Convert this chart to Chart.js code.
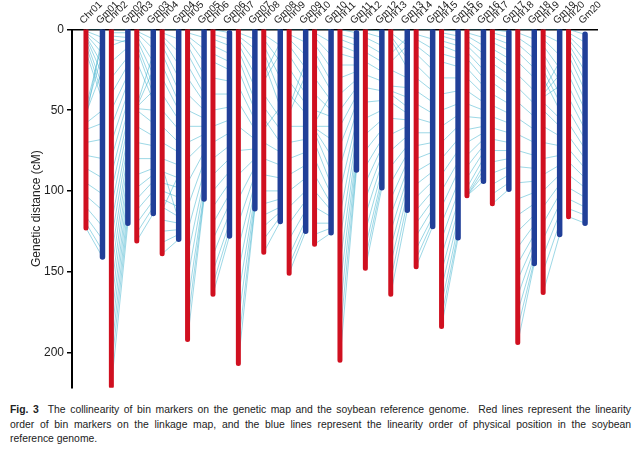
<!DOCTYPE html>
<html>
<head>
<meta charset="utf-8">
<script src="https://cdn.jsdelivr.net/npm/chart.js@4.4.1/dist/chart.umd.min.js"></script>
<style>
  body { margin: 0; background: #fff; width: 640px; height: 459px; overflow: hidden; font-family: "Liberation Sans", Arial, sans-serif; }
  #wrap { position: absolute; left: 0; top: 0; width: 640px; height: 398px; }
  #caption { position: absolute; left: 10px; top: 403px; width: 621px; font-size: 10.4px; line-height: 14.5px; color: #222; }
  #caption .j { text-align: justify; text-align-last: justify; }
</style>
</head>
<body>
<div id="wrap"><canvas id="chart"></canvas></div>
<div id="caption">
  <div class="j"><b>Fig. 3</b>&nbsp; The collinearity of bin markers on the genetic map and the soybean reference genome.&nbsp; Red lines represent the linearity</div>
  <div class="j">order of bin markers on the linkage map, and the blue lines represent the linearity order of physical position in the soybean</div>
  <div>reference genome.</div>
</div>
<script>
// nombres de los cromosomas (mapa genético y genoma de referencia)
const chrNames = ["Chr01","Chr02","Chr03","Chr04","Chr05","Chr06","Chr07","Chr08","Chr09","Chr10",
                  "Chr11","Chr12","Chr13","Chr14","Chr15","Chr16","Chr17","Chr18","Chr19","Chr20"];
const gmNames = ["Gm01","Gm02","Gm03","Gm04","Gm05","Gm06","Gm07","Gm08","Gm09","Gm10",
                 "Gm11","Gm12","Gm13","Gm14","Gm15","Gm16","Gm17","Gm18","Gm19","Gm20"];

// longitud de cada grupo de ligamiento (cM)
const chrLength = [123, 221, 131, 139, 192, 164, 207, 138, 151, 133, 205, 148, 164, 147, 184, 103, 108, 194, 163, 116];
// barras azules: inicio y fin en la misma escala
const gmStart = [0, 0, 0, 0, 0, 2, 0, 0, 0, 0, 2, 1, 0, 0, 1, 0, 1.5, 0, 0, 3];
const gmEnd = [141, 120, 114, 130, 105, 128, 111, 119, 125, 126, 87, 98, 112, 122, 129, 94, 99, 145, 127, 120];

const yTicks = [0, 50, 100, 150, 200];

// marcadores: [posición en rojo (cM), posición en azul]
const markerLinks = [
  [[0,0],[1,5],[2,10],[3,15],[4,22],[5,28],[7,35],[10,40],[14,44],[48,8],[50,15],[52,25],[55,3],[58,50],[62,58],[70,68],[78,80],[86,92],[95,102],[103,112],[110,122],[116,130],[120,137],[123,141]],
  [[0,0],[2,2],[4,5],[6,8],[10,6],[20,11],[30,17],[40,22],[50,28],[60,33],[70,39],[80,44],[90,50],[100,55],[110,60],[120,66],[130,71],[140,77],[150,82],[160,88],[170,93],[180,99],[190,104],[200,110],[210,115],[221,120]],
  [[0,0],[1,6],[2,12],[4,20],[6,28],[9,35],[12,40],[20,44],[47,15],[48,25],[48,38],[49,50],[50,58],[60,66],[70,72],[80,80],[90,86],[98,90],[105,94],[112,100],[120,106],[126,110],[131,114]],
  [[0,0],[2,6],[4,14],[6,22],[10,30],[15,38],[22,45],[30,50],[40,56],[50,62],[60,70],[70,76],[80,84],[85,118],[88,92],[95,98],[100,104],[105,110],[110,116],[112,90],[118,120],[125,124],[132,127],[139,130]],
  [[0,0],[2,5],[4,12],[6,20],[10,28],[15,34],[22,40],[30,45],[40,50],[50,55],[60,60],[70,65],[80,70],[95,76],[110,82],[125,88],[140,93],[155,97],[170,101],[182,103],[192,105]],
  [[0,2],[3,6],[6,10],[10,15],[15,20],[20,25],[30,32],[40,40],[50,48],[60,56],[70,64],[80,72],[90,80],[100,88],[110,95],[120,102],[130,108],[140,114],[150,120],[158,124],[164,128]],
  [[0,0],[2,6],[4,12],[6,20],[9,28],[13,36],[18,44],[25,50],[35,56],[45,62],[60,68],[75,74],[90,80],[105,85],[120,90],[135,95],[150,99],[165,103],[180,106],[195,109],[206,111]],
  [[0,0],[3,10],[6,20],[10,30],[14,40],[20,48],[28,8],[32,15],[40,55],[48,62],[55,70],[62,48],[70,76],[80,84],[90,92],[100,100],[108,105],[115,110],[122,113],[130,116],[138,119]],
  [[0,0],[3,8],[6,16],[10,24],[16,32],[24,40],[32,46],[40,52],[48,20],[52,28],[60,60],[70,68],[80,76],[90,84],[100,92],[110,100],[120,106],[130,112],[140,118],[146,122],[151,125]],
  [[0,0],[2,8],[5,16],[9,24],[14,32],[20,38],[30,44],[40,50],[50,54],[58,40],[60,60],[61,68],[62,78],[64,88],[70,96],[80,102],[90,108],[100,112],[110,116],[120,120],[127,123],[133,126]],
  [[0,2],[3,6],[6,10],[10,14],[15,18],[22,22],[30,26],[40,31],[50,36],[60,41],[72,46],[85,51],[100,57],[115,62],[130,67],[145,72],[160,76],[175,80],[190,84],[205,87]],
  [[0,1],[2,5],[5,10],[9,15],[14,20],[20,26],[28,32],[36,38],[45,44],[55,50],[65,56],[75,62],[85,68],[95,73],[105,78],[115,83],[125,88],[135,92],[142,95],[148,98]],
  [[0,0],[2,10],[4,18],[6,24],[15,5],[20,10],[25,30],[35,36],[38,42],[40,48],[45,52],[55,56],[65,60],[75,66],[85,72],[95,77],[105,82],[115,87],[125,92],[135,97],[145,102],[155,107],[164,112]],
  [[0,0],[3,6],[6,12],[10,18],[15,25],[22,32],[30,38],[38,45],[46,52],[55,58],[64,64],[72,70],[80,76],[88,82],[96,88],[104,94],[112,100],[120,106],[128,111],[136,116],[142,119],[147,122]],
  [[0,1],[2,4],[4,7],[7,10],[10,14],[15,18],[20,23],[30,30],[40,38],[50,46],[60,53],[70,60],[80,68],[90,75],[100,82],[110,88],[120,95],[130,101],[140,107],[150,112],[160,117],[170,122],[178,126],[184,129]],
  [[0,0],[2,5],[4,10],[7,15],[10,20],[14,25],[18,30],[24,35],[30,40],[38,45],[46,50],[54,55],[62,60],[70,64],[78,68],[85,72],[92,76],[98,80],[102,84],[103,87],[103,90],[103,94]],
  [[0,1.5],[2,5],[5,9],[8,13],[12,18],[16,23],[21,28],[27,34],[33,40],[40,46],[47,52],[54,58],[61,64],[68,70],[75,75],[82,80],[89,85],[96,90],[102,95],[108,99]],
  [[0,0],[2,6],[5,12],[9,18],[14,24],[20,30],[28,38],[36,46],[45,54],[55,62],[65,70],[75,78],[85,86],[95,94],[105,101],[115,108],[125,115],[135,121],[145,127],[155,132],[165,136],[175,140],[185,143],[194,145]],
  [[0,0],[3,8],[6,16],[10,24],[15,32],[20,40],[25,45],[30,50],[38,20],[40,28],[42,35],[45,55],[50,60],[60,66],[70,72],[80,78],[90,84],[100,90],[110,96],[120,102],[130,108],[140,114],[150,120],[163,127]],
  [[0,3],[2,8],[4,14],[6,20],[9,26],[12,32],[16,38],[22,44],[28,50],[35,56],[42,62],[50,68],[58,74],[66,80],[74,86],[82,92],[90,98],[98,104],[105,110],[111,115],[116,120]]
];

const RED = "#d01020";
const BLUE = "#213f98";
const LINK = "rgba(60, 178, 205, 0.5)";

// posición horizontal de cada barra
const redX = chrNames.map((_, i) => i + 1);
const blueX = chrNames.map((_, i) => i + 1.65);

const tickPos = [];
const tickNames = [];
chrNames.forEach((n, i) => {
    tickPos.push(redX[i], blueX[i]);
    tickNames.push(n, gmNames[i]);
});

const datasets = [];

// barras rojas y azules
chrNames.forEach((n, i) => {
    datasets.push({
        label: n,
        data: [{ x: redX[i], y: 0 }, { x: redX[i], y: chrLength[i] }],
        borderColor: RED, borderWidth: 5, borderCapStyle: "round",
        showLine: true, pointRadius: 0, order: 0
    });
    datasets.push({
        label: gmNames[i],
        data: [{ x: blueX[i], y: gmStart[i] }, { x: blueX[i], y: gmEnd[i] }],
        borderColor: BLUE, borderWidth: 5.5, borderCapStyle: "round",
        showLine: true, pointRadius: 0, order: 0
    });
});

// líneas de colinealidad
markerLinks.forEach((pairs, i) => {
    const pts = [];
    pairs.forEach(([g, p]) => {
        pts.push({ x: redX[i], y: g }, { x: blueX[i], y: p }, { x: redX[i], y: null });
    });
    datasets.push({
        label: "links " + chrNames[i],
        data: pts,
        borderColor: LINK, borderWidth: 1,
        showLine: true, spanGaps: false, pointRadius: 0, order: 1
    });
});

new Chart(document.getElementById("chart"), {
    type: "scatter",
    data: { datasets },
    options: {
        responsive: true,
        maintainAspectRatio: false,
        animation: false,
        events: [],
        layout: { padding: { left: 29, right: 43, top: 0, bottom: 8 } },
        plugins: { legend: { display: false }, tooltip: { enabled: false } },
        scales: {
            x: {
                type: "linear",
                position: "top",
                min: 0.45,
                max: 21.12,
                afterBuildTicks: (scale) => { scale.ticks = tickPos.map(v => ({ value: v })); },
                afterFit: (scale) => { scale.height = 29.5; },
                grid: { display: false, drawTicks: false },
                border: { display: true, color: "#000", width: 1.5 },
                ticks: {
                    autoSkip: false, minRotation: 45, maxRotation: 45, padding: 3, labelOffset: 4,
                    color: "#222", font: { family: "Liberation Sans", size: 10 },
                    callback: (v, idx) => tickNames[idx]
                }
            },
            y: {
                reverse: true,
                min: 0,
                max: 222,
                afterBuildTicks: (scale) => { scale.ticks = yTicks.map(v => ({ value: v })); },
                afterFit: (scale) => { scale.width = 43; },
                grid: { drawOnChartArea: false, drawTicks: true, tickLength: 5, color: "#000", lineWidth: 1.5 },
                border: { display: true, color: "#000", width: 2 },
                ticks: { color: "#222", padding: 3, font: { family: "Liberation Sans", size: 12 } },
                title: {
                    display: true, text: "Genetic distance (cM)", color: "#222",
                    font: { family: "Liberation Sans", size: 12 }, padding: 0
                }
            }
        }
    }
});
</script>
</body>
</html>
